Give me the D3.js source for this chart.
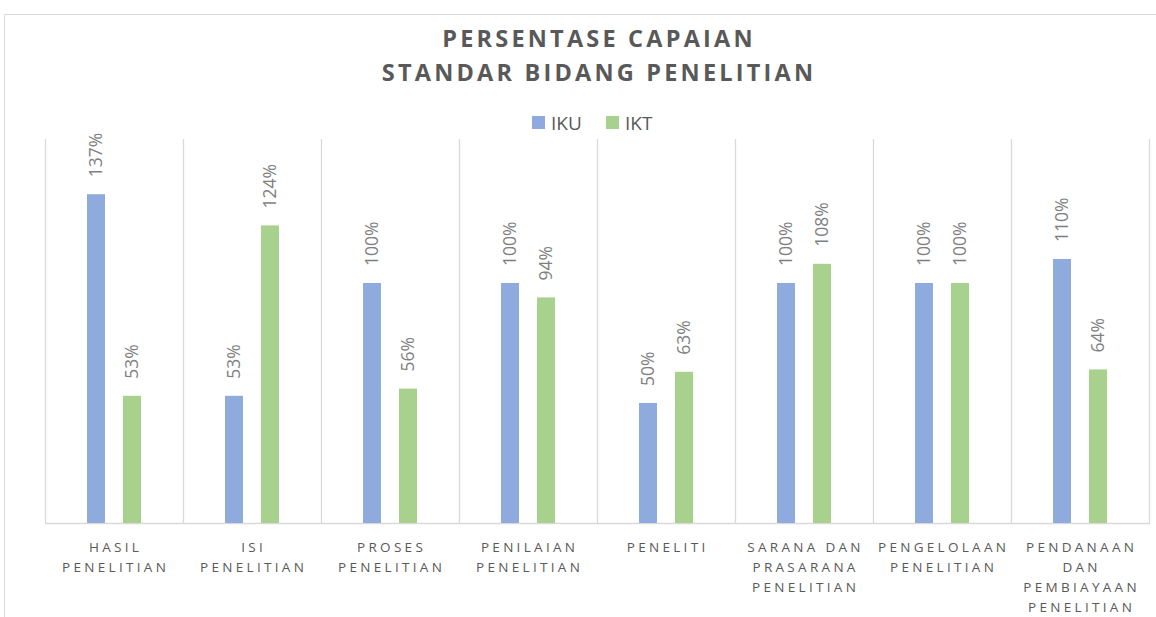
<!DOCTYPE html>
<html><head><meta charset="utf-8">
<script src="https://cdn.jsdelivr.net/npm/d3@7"></script>
<style>
html,body{margin:0;padding:0;background:#fff;}
svg{display:block;}
</style></head>
<body>
<script>
const categories = ["HASIL PENELITIAN","ISI PENELITIAN","PROSES PENELITIAN","PENILAIAN PENELITIAN","PENELITI","SARANA DAN PRASARANA PENELITIAN","PENGELOLAAN PENELITIAN","PENDANAAN DAN PEMBIAYAAN PENELITIAN"];
const categoryLines = [["HASIL","PENELITIAN"],["ISI","PENELITIAN"],["PROSES","PENELITIAN"],["PENILAIAN","PENELITIAN"],["PENELITI"],["SARANA DAN","PRASARANA","PENELITIAN"],["PENGELOLAAN","PENELITIAN"],["PENDANAAN","DAN","PEMBIAYAAN","PENELITIAN"]];
const seriesNames = ["IKU","IKT"];
const iku = [137,53,100,100,50,100,100,110];
const ikt = [53,124,56,94,63,108,100,64];
const colors = ["#8faadc","#a9d18e"];
const titleLines = ["PERSENTASE CAPAIAN","STANDAR BIDANG PENELITIAN"];

(function(){
const W=1156,H=617;
const svg=d3.select("body").append("svg").attr("width",W).attr("height",H);
const font="'Open Sans', 'Liberation Sans', sans-serif";

svg.append("path").attr("d","M4.5,617 V14.5 H1156").attr("fill","none").attr("stroke","#d9d9d9");

const pL=45,pR=1149,pT=139,pB=523;
const x=d3.scaleBand().domain(categories).range([pL,pR]).padding(0);
const y=d3.scaleLinear().domain([0,160]).range([pB,pT]);
const barW=18;
const xs=d3.scaleOrdinal().domain(seriesNames).range([-27,9]);

const bounds=categories.map(c=>x(c)).concat([x(categories[categories.length-1])+x.bandwidth()]);
svg.append("g").selectAll("line").data(bounds).join("line")
  .attr("x1",d=>Math.round(d)+0.5).attr("x2",d=>Math.round(d)+0.5)
  .attr("y1",pT).attr("y2",pB)
  .attr("stroke","#d9d9d9").attr("stroke-width",1.3);

svg.append("line").attr("x1",pL).attr("x2",pR+1).attr("y1",pB+0.5).attr("y2",pB+0.5)
  .attr("stroke","#d9d9d9").attr("stroke-width",1.5);

const data=[];
categories.forEach((c,i)=>{data.push({c,s:"IKU",v:iku[i]});data.push({c,s:"IKT",v:ikt[i]});});

svg.append("g").selectAll("rect").data(data).join("rect")
  .attr("x",d=>x(d.c)+x.bandwidth()/2+xs(d.s))
  .attr("y",d=>y(d.v)).attr("width",barW).attr("height",d=>pB-y(d.v))
  .attr("fill",d=>colors[seriesNames.indexOf(d.s)]);

svg.append("g").selectAll("text").data(data).join("text")
  .attr("transform",d=>`translate(${x(d.c)+x.bandwidth()/2+xs(d.s)+barW/2},${y(d.v)-17}) rotate(-90)`)
  .attr("dy","0.35em").attr("text-anchor","start")
  .attr("font-family",font).attr("font-size",17.5).attr("fill","#7f7f7f")
  .text(d=>d.v+"%");

const xl=svg.append("g");
categories.forEach((c,i)=>{
  const t=xl.append("text").attr("text-anchor","middle")
    .attr("font-family",font).attr("font-size",13.5).attr("fill","#595959")
    .attr("letter-spacing","3.3px");
  categoryLines[i].forEach((ln,j)=>{
    t.append("tspan").attr("x",x(c)+x.bandwidth()/2+1.6).attr("y",552+j*20).text(ln);
  });
});

titleLines.forEach((t,i)=>{
  svg.append("text").attr("x",599).attr("y",47+i*34).attr("text-anchor","middle")
    .attr("font-family",font).attr("font-weight","bold").attr("font-size",23.5)
    .attr("letter-spacing","3.2px").attr("fill","#595959").text(t);
});

const lg=svg.append("g");
const legX=[532,606];
seriesNames.forEach((s,i)=>{
  lg.append("rect").attr("x",legX[i]).attr("y",116).attr("width",13).attr("height",13).attr("fill",colors[i]);
  lg.append("text").attr("x",legX[i]+19).attr("y",129.5).attr("font-family",font).attr("font-size",19)
    .attr("fill","#595959").text(s);
});
})();
</script>
</body></html>
